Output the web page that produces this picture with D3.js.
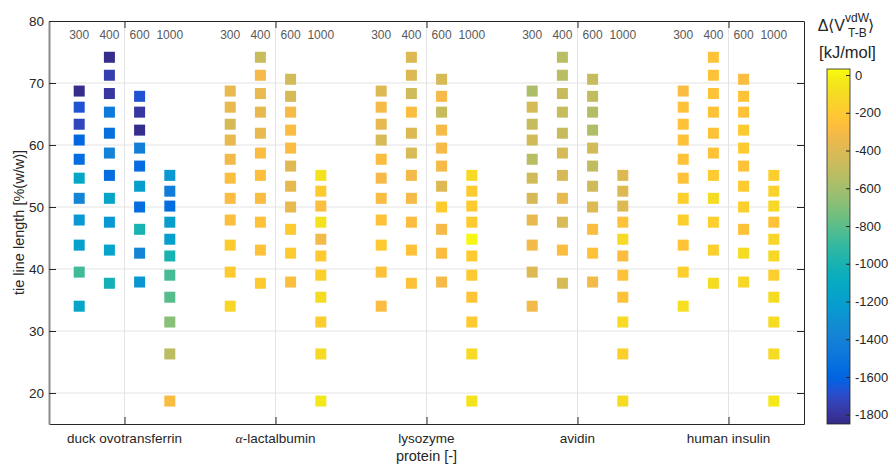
<!DOCTYPE html>
<html>
<head>
<meta charset="utf-8">
<script src="https://cdn.jsdelivr.net/npm/d3@7"></script>
<style>
  body { margin: 0; background: #fff; }
  svg { display: block; font-family: "Liberation Sans", Arial, Helvetica, sans-serif; }
</style>
</head>
<body>
<svg id="chart" width="889" height="466"></svg>
<script>
// Proteins on the x axis and the PEG molecular weights grouped around each one
const proteins = ["duck ovotransferrin", "α-lactalbumin", "lysozyme", "avidin", "human insulin"];
const pegs = ["300", "400", "600", "1000"];
const pegOffset = [-0.3, -0.1, 0.1, 0.3];

// Tie line lengths [%(w/w)] of each PEG system
const tll300  = [68.7, 66.1, 63.35, 60.8, 57.7, 54.65, 51.4, 47.9, 43.85, 39.5, 34.0];
const tll400  = [74.15, 71.25, 68.3, 65.3, 61.9, 58.7, 55.1, 51.4, 47.55, 43.05, 37.7];
const tll600  = [70.6, 67.85, 65.3, 62.4, 59.5, 56.6, 53.35, 50.0, 46.4, 42.55, 37.9];
const tll1000 = [55.1, 52.55, 50.15, 47.55, 44.8, 42.1, 39.0, 35.45, 31.45, 26.3, 18.7];
const tlls = [tll300, tll400, tll600, tll1000];

// Δ<V_vdW T-B> [kJ/mol] for each protein, per PEG (null = not measured)
const duckOvotransferrin = [
  [-1840, -1670, -1720, -1585, -1550, -1135, -1380, -1250, -1190, -870, -1150],
  [-1840, -1755, -1790, -1470, -1530, -1390, -1550, -1150, -1250, -1160, -1020],
  [null, -1670, -1790, -1830, -1420, -1550, -1210, -1540, -1000, -1380, -1260],
  [-1250, -1440, -1540, -1200, -1200, -1000, -850, -810, -680, -520, -290]
];
const alphaLactalbumin = [
  [-360, -360, -430, -360, -320, -270, -285, -270, -190, -190, -130],
  [-476, -310, -360, -360, -360, -285, -260, -285, -240, -240, -190],
  [-440, -430, -310, -285, -285, -390, -360, -360, -190, -190, -270],
  [-70, -190, -270, -70, -320, -190, -170, -100, -180, -110, -40]
];
const lysozyme = [
  [-400, -310, -360, -420, -280, -310, -285, -240, -190, -250, -285],
  [-400, -400, -450, -280, -400, -420, -320, -310, -280, -240, -240],
  [-430, -310, -480, -310, -310, -310, -400, -190, -310, -285, -310],
  [-110, -190, -190, -190, 10, -190, -190, -230, -190, -110, -70]
];
const avidin = [
  [-570, -430, -480, -445, -530, -450, -430, -360, -320, -400, -320],
  [-530, -530, -480, -480, -480, -430, -430, -360, -420, -280, -420],
  [-480, -500, -545, -560, -440, -500, -450, -400, -280, -240, -320],
  [-400, -400, -400, -240, -110, -280, -240, -240, -110, -170, -100]
];
const humanInsulin = [
  [-285, -240, -240, -240, -240, -240, -170, -170, -230, -170, -80],
  [-240, -240, -240, -240, -240, -240, -190, -100, -170, -170, -100],
  [-280, -240, -240, -190, -190, -240, -190, -170, -240, -100, -120],
  [-170, -150, -120, -240, -140, -120, -170, -100, -100, -100, -40]
];
const energies = [duckOvotransferrin, alphaLactalbumin, lysozyme, avidin, humanInsulin];

const yTicks = [20, 30, 40, 50, 60, 70, 80];
const cbTicks = [0, -200, -400, -600, -800, -1000, -1200, -1400, -1600, -1800];
const cLimits = [-1849, 32];

// parula colormap (64 entries)
const parula = [
[0.2081,0.1663,0.5292],[0.2116,0.1898,0.5777],[0.2123,0.2138,0.6270],[0.2081,0.2386,0.6771],
[0.1959,0.2645,0.7279],[0.1707,0.2919,0.7792],[0.1253,0.3242,0.8303],[0.0591,0.3598,0.8683],
[0.0117,0.3875,0.8820],[0.0060,0.4086,0.8828],[0.0165,0.4266,0.8786],[0.0329,0.4430,0.8720],
[0.0498,0.4586,0.8641],[0.0629,0.4737,0.8554],[0.0723,0.4887,0.8467],[0.0779,0.5040,0.8384],
[0.0793,0.5200,0.8312],[0.0749,0.5375,0.8263],[0.0641,0.5570,0.8240],[0.0488,0.5772,0.8228],
[0.0343,0.5966,0.8199],[0.0265,0.6137,0.8135],[0.0239,0.6287,0.8038],[0.0231,0.6418,0.7913],
[0.0228,0.6535,0.7768],[0.0267,0.6642,0.7607],[0.0384,0.6743,0.7436],[0.0590,0.6838,0.7254],
[0.0843,0.6928,0.7062],[0.1133,0.7015,0.6859],[0.1453,0.7098,0.6646],[0.1801,0.7177,0.6424],
[0.2178,0.7250,0.6193],[0.2586,0.7317,0.5954],[0.3022,0.7376,0.5712],[0.3482,0.7424,0.5473],
[0.3953,0.7459,0.5244],[0.4420,0.7481,0.5033],[0.4871,0.7491,0.4840],[0.5300,0.7491,0.4661],
[0.5709,0.7485,0.4494],[0.6099,0.7473,0.4337],[0.6473,0.7456,0.4188],[0.6834,0.7435,0.4044],
[0.7184,0.7411,0.3905],[0.7525,0.7384,0.3768],[0.7858,0.7356,0.3633],[0.8185,0.7327,0.3498],
[0.8507,0.7299,0.3360],[0.8824,0.7274,0.3217],[0.9139,0.7258,0.3063],[0.9450,0.7261,0.2886],
[0.9739,0.7314,0.2666],[0.9938,0.7455,0.2403],[0.9990,0.7653,0.2164],[0.9955,0.7861,0.1967],
[0.9880,0.8066,0.1794],[0.9789,0.8271,0.1633],[0.9697,0.8481,0.1475],[0.9626,0.8705,0.1309],
[0.9589,0.8949,0.1132],[0.9598,0.9218,0.0948],[0.9661,0.9514,0.0755],[0.9763,0.9831,0.0538]
].map(c => d3.rgb(c[0] * 255, c[1] * 255, c[2] * 255).formatHex());

const parulaInterp = d3.interpolateRgbBasis(parula);
const color = d3.scaleSequential(parulaInterp).domain(cLimits).clamp(true);

const svg = d3.select("#chart");
const margin = { left: 49, right: 804, top: 21, bottom: 424 };

const x = d3.scaleLinear().domain([0.5, 5.5]).range([margin.left, margin.right]);
const y = d3.scaleLinear().domain([15, 80]).range([margin.bottom, margin.top]);

const textColor = "#262626";
const gridColor = "#e3e3e3";
const tickFont = 13.5;
const labelFont = 14.5;

// grid
const grid = svg.append("g");
grid.selectAll("line.h").data(yTicks.filter(t => t < 80)).join("line")
  .attr("x1", margin.left).attr("x2", margin.right)
  .attr("y1", d => y(d)).attr("y2", d => y(d))
  .attr("stroke", gridColor).attr("stroke-width", 1);
grid.selectAll("line.v").data(d3.range(1, 6)).join("line")
  .attr("x1", d => x(d)).attr("x2", d => x(d))
  .attr("y1", margin.top).attr("y2", margin.bottom)
  .attr("stroke", gridColor).attr("stroke-width", 1);

// markers
const points = [];
energies.forEach((prot, pi) => {
  prot.forEach((vals, gi) => {
    vals.forEach((v, k) => {
      if (v !== null) points.push({ x: pi + 1 + pegOffset[gi], y: tlls[gi][k], v: v });
    });
  });
});
const sq = 11;
svg.append("g").selectAll("rect").data(points).join("rect")
  .attr("x", d => x(d.x) - sq / 2)
  .attr("y", d => y(d.y) - sq / 2)
  .attr("width", sq).attr("height", sq)
  .attr("fill", d => color(d.v));

// PEG labels above each column
const pegLabels = [];
proteins.forEach((p, pi) => pegs.forEach((g, gi) => pegLabels.push({ x: pi + 1 + pegOffset[gi], t: g })));
svg.append("g").selectAll("text").data(pegLabels).join("text")
  .attr("x", d => x(d.x)).attr("y", 39)
  .attr("text-anchor", "middle")
  .attr("font-size", 12).attr("fill", "#595959")
  .text(d => d.t);

// axes box
const axisG = svg.append("g");
// bottom axis
axisG.append("g")
  .attr("transform", `translate(0,${margin.bottom})`)
  .call(d3.axisBottom(x).tickValues([1, 2, 3, 4, 5]).tickSizeInner(-7).tickSizeOuter(0).tickFormat(() => ""))
  .call(g => g.select(".domain").attr("stroke", textColor))
  .call(g => g.selectAll(".tick line").attr("stroke", textColor));
// top axis
axisG.append("g")
  .attr("transform", `translate(0,${margin.top})`)
  .call(d3.axisTop(x).tickValues([1, 2, 3, 4, 5]).tickSizeInner(-7).tickSizeOuter(0).tickFormat(() => ""))
  .call(g => g.select(".domain").attr("stroke", textColor))
  .call(g => g.selectAll(".tick line").attr("stroke", textColor));
// right axis
axisG.append("g")
  .attr("transform", `translate(${margin.right},0)`)
  .call(d3.axisRight(y).tickValues(yTicks).tickSizeInner(-7).tickSizeOuter(0).tickFormat(() => ""))
  .call(g => g.select(".domain").attr("stroke", textColor))
  .call(g => g.selectAll(".tick line").attr("stroke", textColor));
// left axis
axisG.append("g")
  .attr("transform", `translate(${margin.left},0)`)
  .call(d3.axisLeft(y).tickValues(yTicks).tickSizeInner(-7).tickSizeOuter(0).tickPadding(5))
  .call(g => g.select(".domain").attr("stroke", "#8c8c8c").attr("stroke-width", 2))
  .call(g => g.selectAll(".tick line").attr("stroke", textColor))
  .call(g => g.selectAll(".tick text").attr("font-size", tickFont).attr("fill", textColor)
    .attr("font-family", "'Liberation Sans', Arial, sans-serif"));

// protein tick labels
const xl = svg.append("g");
proteins.forEach((p, i) => {
  const t = xl.append("text")
    .attr("x", x(i + 1)).attr("y", 443)
    .attr("text-anchor", "middle").attr("font-size", tickFont).attr("fill", textColor);
  if (p.startsWith("α")) {
    t.append("tspan").attr("font-family", "'Liberation Serif', 'DejaVu Serif', serif").attr("font-style", "italic").text("α");
    t.append("tspan").text(p.slice(1));
  } else {
    t.text(p);
  }
});

// axis titles
svg.append("text")
  .attr("x", x(3)).attr("y", 461)
  .attr("text-anchor", "middle").attr("font-size", labelFont).attr("fill", textColor)
  .text("protein [-]");
svg.append("text")
  .attr("transform", `translate(24,${(margin.top + margin.bottom) / 2}) rotate(-90)`)
  .attr("text-anchor", "middle").attr("font-size", labelFont).attr("fill", textColor)
  .text("tie line length [%(w/w)]");

// colorbar
const cb = { x: 827, w: 23, top: 69, bottom: 424 };
const cy = d3.scaleLinear().domain(cLimits).range([cb.bottom, cb.top]);
const defs = svg.append("defs");
const grad = defs.append("linearGradient").attr("id", "parulaGrad")
  .attr("x1", 0).attr("y1", 1).attr("x2", 0).attr("y2", 0);
parula.forEach((c, i) => grad.append("stop").attr("offset", i / (parula.length - 1)).attr("stop-color", c));
svg.append("rect")
  .attr("x", cb.x).attr("y", cb.top).attr("width", cb.w).attr("height", cb.bottom - cb.top)
  .attr("fill", "url(#parulaGrad)").attr("stroke", textColor).attr("stroke-width", 0.8);
svg.append("g")
  .attr("transform", `translate(${cb.x + cb.w},0)`)
  .call(d3.axisRight(cy).tickValues(cbTicks).tickSizeInner(-4).tickSizeOuter(0).tickPadding(5)
    .tickFormat(d => String(d)))
  .call(g => g.select(".domain").remove())
  .call(g => g.selectAll(".tick line").attr("stroke", textColor))
  .call(g => g.selectAll(".tick text").attr("font-size", 13).attr("fill", textColor)
    .attr("font-family", "'Liberation Sans', Arial, sans-serif"));

// colorbar title: Δ⟨V^vdW_T-B⟩ [kJ/mol]
const title = svg.append("g").attr("fill", textColor);
title.append("text").attr("x", 845).attr("y", 31).attr("text-anchor", "end")
  .attr("font-size", 16).text("Δ⟨V");
title.append("text").attr("x", 845).attr("y", 22).attr("font-size", 12).text("vdW");
title.append("text").attr("x", 848).attr("y", 37).attr("font-size", 12).text("T-B");
title.append("text").attr("x", 868).attr("y", 31).attr("font-size", 16).text("⟩");
title.append("text").attr("x", 847.5).attr("y", 58).attr("text-anchor", "middle")
  .attr("font-size", 16.5).text("[kJ/mol]");
</script>
</body>
</html>
